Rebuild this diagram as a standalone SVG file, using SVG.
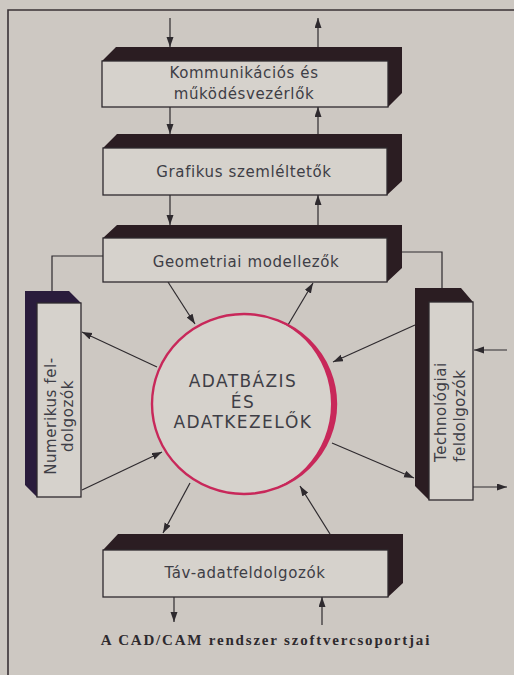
<svg xmlns="http://www.w3.org/2000/svg" width="514" height="675" viewBox="0 0 514 675">
<defs>
<marker id="ah" markerUnits="userSpaceOnUse" markerWidth="11" markerHeight="8" refX="10" refY="3.5" orient="auto">
<path d="M0,0 L10,3.5 L0,7 z" fill="#2e2a2e"/>
</marker>
<style>
.bg{fill:#cdc8c2}
.frame{fill:none;stroke:#3a3236;stroke-width:1.6}
.dark{fill:#2b1d22}
.darkp{fill:#2a1c3c}
.face{fill:#d6d2cc;stroke:#2e2a2e;stroke-width:1.3}
.lbl{font-family:"DejaVu Sans",sans-serif;font-size:15px;fill:#3e3e46;letter-spacing:0.6px}
.big{font-family:"DejaVu Sans",sans-serif;font-size:17px;fill:#3e3e46;letter-spacing:1.4px}
.cap{font-family:"Liberation Serif",serif;font-size:15px;font-weight:bold;fill:#2e2a2e;letter-spacing:1.8px}
.con line,.con polyline{stroke:#2e2a2e;stroke-width:1.2;fill:none}
.arr{marker-end:url(#ah)}
</style>
</defs>
<rect class="bg" x="0" y="0" width="514" height="675"/>
<path class="frame" d="M8,675 L8,10 L514,10"/>

<g id="connectors" class="con">
<line class="arr" x1="170" y1="18" x2="170" y2="47"/>
<line class="arr" x1="318" y1="47" x2="318" y2="18"/>
<line class="arr" x1="170" y1="107" x2="170" y2="134"/>
<line class="arr" x1="318" y1="134" x2="318" y2="107"/>
<line class="arr" x1="170" y1="195" x2="170" y2="225"/>
<line class="arr" x1="318" y1="225" x2="318" y2="195"/>
<polyline points="103,256 52,256 52,291"/>
<polyline points="402,252 442,252 442,288"/>
<line class="arr" x1="168" y1="282" x2="195" y2="324"/>
<line class="arr" x1="288" y1="325" x2="313" y2="283"/>
<line class="arr" x1="415" y1="325" x2="333" y2="362"/>
<line class="arr" x1="332" y1="443" x2="414" y2="478"/>
<line class="arr" x1="157" y1="367" x2="82" y2="332"/>
<line class="arr" x1="82" y1="490" x2="162" y2="452"/>
<line class="arr" x1="190" y1="483" x2="163" y2="533"/>
<line class="arr" x1="330" y1="534" x2="300" y2="486"/>
<line class="arr" x1="174" y1="597" x2="174" y2="622"/>
<line class="arr" x1="322" y1="625" x2="322" y2="597"/>
<line class="arr" x1="507" y1="350" x2="474" y2="350"/>
<line class="arr" x1="473" y1="487" x2="507" y2="487"/>
</g>

<g id="kommunikacios">
<polygon class="dark" points="102,61 116,47 402,47 402,93 388,107 388,61"/>
<rect class="face" x="102" y="61" width="286" height="46"/>
<text class="lbl" x="244" y="78" text-anchor="middle">Kommunikációs és</text>
<text class="lbl" x="244" y="99" text-anchor="middle">működésvezérlők</text>
</g>

<g id="grafikus">
<polygon class="dark" points="103,148 117,134 402,134 402,181 387,195 387,148"/>
<rect class="face" x="103" y="148" width="284" height="47"/>
<text class="lbl" x="244" y="177" text-anchor="middle">Grafikus szemléltetők</text>
</g>

<g id="geometriai">
<polygon class="dark" points="103,238 117,225 402,225 402,268 387,282 387,238"/>
<rect class="face" x="103" y="238" width="284" height="44"/>
<text class="lbl" x="246" y="267" text-anchor="middle">Geometriai modellezők</text>
</g>

<g id="numerikus">
<polygon class="darkp" points="81,303 69,291 25,291 25,485 37,497 37,303"/>
<rect class="face" x="37" y="303" width="44" height="194"/>
<text class="lbl" transform="translate(56,416) rotate(-90)" text-anchor="middle">Numerikus fel-</text>
<text class="lbl" transform="translate(73,416) rotate(-90)" text-anchor="middle">dolgozók</text>
</g>

<g id="technologiai">
<polygon class="dark" points="473,302 461,288 415,288 415,486 429,500 429,302"/>
<rect class="face" x="429" y="302" width="44" height="198"/>
<text class="lbl" transform="translate(446,462) rotate(-90)">Technológiai</text>
<text class="lbl" transform="translate(465,462) rotate(-90)">feldolgozók</text>
</g>

<g id="adatbazis">
<ellipse cx="244" cy="404" rx="92" ry="90" fill="#d6d2cc" stroke="#c8285a" stroke-width="2.4"/>
<path d="M244,314 A92,90 0 0 1 244,494 A87,90 0 0 0 244,314 Z" fill="#c8285a"/>
<text class="big" x="243" y="387" text-anchor="middle">ADATBÁZIS</text>
<text class="big" x="243" y="408" text-anchor="middle">ÉS</text>
<text class="big" x="243" y="428" text-anchor="middle">ADATKEZELŐK</text>
</g>

<g id="tav">
<polygon class="dark" points="103,550 118,534 403,534 403,583 388,597 388,550"/>
<rect class="face" x="103" y="550" width="285" height="47"/>
<text class="lbl" x="245" y="578" text-anchor="middle">Táv-adatfeldolgozók</text>
</g>

<text class="cap" x="266" y="645" text-anchor="middle">A CAD/CAM rendszer szoftvercsoportjai</text>
</svg>
